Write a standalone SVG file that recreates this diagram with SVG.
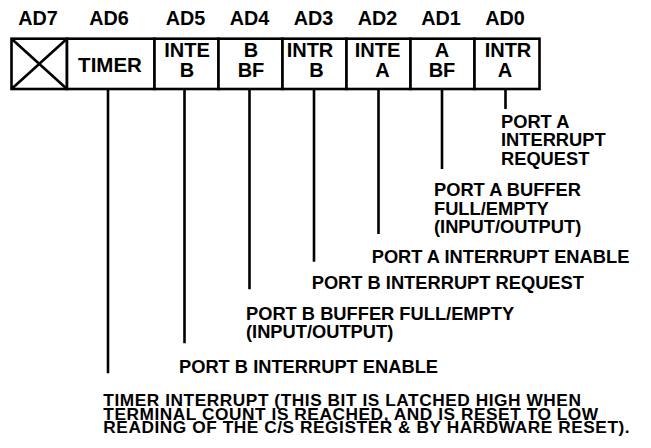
<svg xmlns="http://www.w3.org/2000/svg" width="651" height="448" viewBox="0 0 651 448">
<style>
text{font-family:"Liberation Sans",Arial,Helvetica,sans-serif;font-weight:bold;fill:#000}
.hd{font-size:19.8px;text-anchor:middle}
.cell{font-size:20px;text-anchor:middle}
.lbl{font-size:18.3px}
.note{font-size:17.3px;letter-spacing:0.55px}
.box{fill:#fff;stroke:#000;stroke-width:2.6}
.ln{stroke:#000;stroke-width:2.6;fill:none}
</style>
<rect width="651" height="448" fill="#fff"/>
<g id="headers">
<text class="hd" x="38" y="25">AD7</text>
<text class="hd" x="109" y="25">AD6</text>
<text class="hd" x="185.5" y="25">AD5</text>
<text class="hd" x="249.5" y="25">AD4</text>
<text class="hd" x="313.5" y="25">AD3</text>
<text class="hd" x="377.5" y="25">AD2</text>
<text class="hd" x="441" y="25">AD1</text>
<text class="hd" x="505" y="25">AD0</text>
</g>
<g id="bit7">
<rect class="box" x="11.5" y="38.7" width="55.5" height="50.3"/>
<path class="ln" d="M11.5 38.7L67 89M67 38.7L11.5 89"/>
</g>
<g id="bit6">
<rect class="box" x="67" y="38.7" width="87.5" height="50.3"/>
<text class="cell" x="110" y="71.7" style="font-size:20.5px">TIMER</text>
</g>
<g id="bit5">
<rect class="box" x="154.5" y="38.7" width="64" height="50.3"/>
<text class="cell" x="187" y="57.3">INTE</text>
<text class="cell" x="187" y="77.3">B</text>
</g>
<g id="bit4">
<rect class="box" x="218.5" y="38.7" width="64" height="50.3"/>
<text class="cell" x="251" y="57.3">B</text>
<text class="cell" x="251" y="77.3">BF</text>
</g>
<g id="bit3">
<rect class="box" x="282.5" y="38.7" width="64" height="50.3"/>
<text class="cell" x="310" y="57.3">INTR</text>
<text class="cell" x="316.5" y="77.3">B</text>
</g>
<g id="bit2">
<rect class="box" x="346.5" y="38.7" width="64" height="50.3"/>
<text class="cell" x="377.5" y="57.3">INTE</text>
<text class="cell" x="382.5" y="77.3">A</text>
</g>
<g id="bit1">
<rect class="box" x="410.5" y="38.7" width="64" height="50.3"/>
<text class="cell" x="442" y="57.3">A</text>
<text class="cell" x="442" y="77.3">BF</text>
</g>
<g id="bit0">
<rect class="box" x="474.5" y="38.7" width="65" height="50.3"/>
<text class="cell" x="508" y="57.3">INTR</text>
<text class="cell" x="505" y="77.3">A</text>
</g>
<g id="connectors">
<path class="ln" d="M505.5 89V109M442 89V169M378.5 89V234M314 89V261.7M249.5 89V289.3M184.5 89V343.3M108 89V373.3"/>
</g>
<g id="label0">
<text class="lbl" x="501" y="127.7">PORT A</text>
<text class="lbl" x="501" y="146.3">INTERRUPT</text>
<text class="lbl" x="501" y="164.5">REQUEST</text>
</g>
<g id="label1">
<text class="lbl" x="434" y="196.3">PORT A BUFFER</text>
<text class="lbl" x="434" y="214.5">FULL/EMPTY</text>
<text class="lbl" x="434" y="232.5">(INPUT/OUTPUT)</text>
</g>
<g id="label2">
<text class="lbl" x="371.7" y="262.7">PORT A INTERRUPT ENABLE</text>
</g>
<g id="label3">
<text class="lbl" x="311.7" y="289.3">PORT B INTERRUPT REQUEST</text>
</g>
<g id="label4">
<text class="lbl" x="246" y="320">PORT B BUFFER FULL/EMPTY</text>
<text class="lbl" x="246" y="338">(INPUT/OUTPUT)</text>
</g>
<g id="label5">
<text class="lbl" x="179" y="372.7">PORT B INTERRUPT ENABLE</text>
</g>
<g id="label6">
<text class="note" x="103.3" y="405.7">TIMER INTERRUPT (THIS BIT IS LATCHED HIGH WHEN</text>
<text class="note" x="103.3" y="419.5">TERMINAL COUNT IS REACHED, AND IS RESET TO LOW</text>
<text class="note" x="103.3" y="433.3">READING OF THE C/S REGISTER &amp; BY HARDWARE RESET).</text>
</g>
</svg>
